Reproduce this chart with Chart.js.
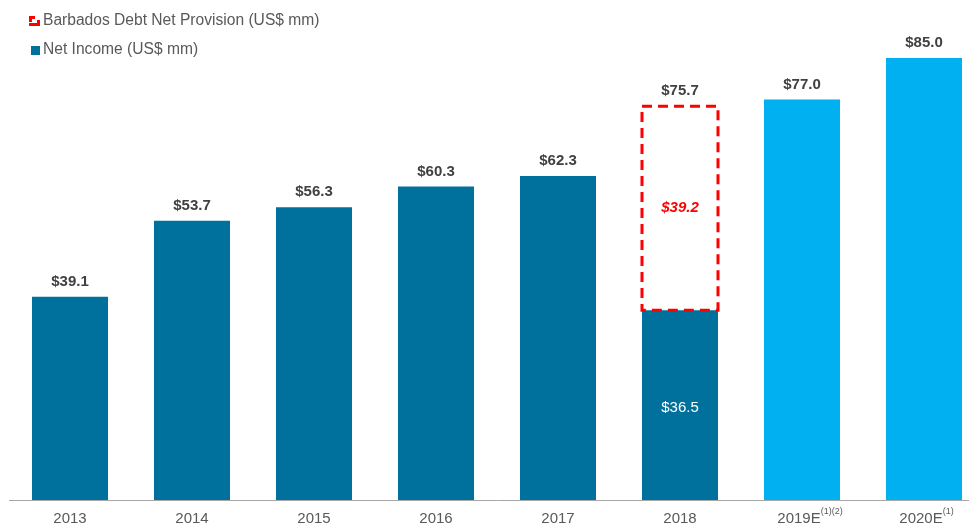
<!DOCTYPE html>
<html><head><meta charset="utf-8">
<script src="https://cdn.jsdelivr.net/npm/chart.js@4"></script>
<style>html,body{margin:0;padding:0;background:#fff;overflow:hidden;width:969px;height:527px}#wrap{position:relative;width:985px;height:527px}</style>
</head><body><div id="wrap"><canvas id="c"></canvas></div>
<script>
const categories = ['2013','2014','2015','2016','2017','2018','2019E','2020E'];
const superscripts = ['','','','','','','(1)(2)','(1)'];
const netIncome = [39.1, 53.7, 56.3, 60.3, 62.3, 36.5, 77.0, 85.0];
const provision = [null, null, null, null, null, 39.2, null, null];
const totals = [39.1, 53.7, 56.3, 60.3, 62.3, 75.7, 77.0, 85.0];
const isEstimate = [false,false,false,false,false,false,true,true];
const legendLabels = ['Barbados Debt Net Provision (US$ mm)', 'Net Income (US$ mm)'];

const DARK = '#00719C', LIGHT = '#00B0F0', RED = '#FF0000';

const overlay = {
  id: 'overlay',
  afterDatasetsDraw(chart) {
    const ctx = chart.ctx;
    const niMeta = chart.getDatasetMeta(0);
    const prMeta = chart.getDatasetMeta(1);
    ctx.save();
    prMeta.data.forEach((el, i) => {
      if (provision[i] == null) return;
      const p = el.getProps(['x','y','base','width'], true);
      const l = p.x - p.width/2, r = p.x + p.width/2;
      ctx.strokeStyle = RED; ctx.lineWidth = 3; ctx.setLineDash([10,6]);
      ctx.strokeRect(l, p.y, r - l, p.base - p.y);
      ctx.setLineDash([]);
      ctx.fillStyle = RED; ctx.font = 'italic bold 15px "Liberation Sans", Arial';
      ctx.textAlign = 'center'; ctx.textBaseline = 'middle';
      ctx.fillText('$' + provision[i].toFixed(1), p.x, (p.y + p.base)/2);
      const n = niMeta.data[i].getProps(['x','y','base'], true);
      ctx.fillStyle = '#FFFFFF'; ctx.font = '15px "Liberation Sans", Arial';
      ctx.fillText('$' + netIncome[i].toFixed(1), n.x, n.y + 98);
    });
    ctx.fillStyle = '#404040'; ctx.font = 'bold 15px "Liberation Sans", Arial';
    ctx.textAlign = 'center'; ctx.textBaseline = 'middle';
    const ys = chart.scales.y;
    totals.forEach((t, i) => {
      const x = niMeta.data[i].x;
      ctx.fillText('$' + t.toFixed(1), x, ys.getPixelForValue(t) - 15);
    });
    const xs = chart.scales.x;
    categories.forEach((c, i) => {
      const x = xs.getPixelForValue(i);
      ctx.font = '15px "Liberation Sans", Arial'; ctx.fillStyle = '#595959';
      const w = ctx.measureText(c).width;
      ctx.textAlign = 'left'; ctx.textBaseline = 'middle';
      const sx = x - w/2 - (superscripts[i] ? 3 : 0);
      ctx.fillText(c, sx, 519);
      if (superscripts[i]) {
        ctx.font = '9px "Liberation Sans", Arial';
        ctx.fillText(superscripts[i], sx + w, 512);
      }
    });
    ctx.font = '15.6px "Liberation Sans", Arial'; ctx.fillStyle = '#595959';
    ctx.textAlign = 'left'; ctx.textBaseline = 'middle';
    ctx.fillText(legendLabels[0], 43, 21);
    ctx.fillText(legendLabels[1], 43, 50);
    ctx.fillStyle = RED;
    ctx.fillRect(29, 16, 3, 6); ctx.fillRect(29, 16, 6, 3);
    ctx.fillRect(29, 23, 11, 3); ctx.fillRect(37, 20, 3, 6);
    ctx.fillStyle = DARK;
    ctx.fillRect(31, 46, 9, 9);
    ctx.restore();
  }
};

new Chart(document.getElementById('c'), {
  type: 'bar',
  data: {
    labels: categories,
    datasets: [
      { label: legendLabels[1], data: netIncome,
        backgroundColor: isEstimate.map(e => e ? LIGHT : DARK), borderWidth: 0 },
      { label: legendLabels[0], data: provision,
        backgroundColor: 'rgba(0,0,0,0)', borderWidth: 0 }
    ]
  },
  options: {
    responsive: true, maintainAspectRatio: false, animation: false,
    layout: { padding: { left: 9, right: 0, top: 0, bottom: 0 } },
    datasets: { bar: { categoryPercentage: 1, barPercentage: 0.623 } },
    plugins: { legend: { display: false }, tooltip: { enabled: false } },
    scales: {
      x: { stacked: true, grid: { display: false }, ticks: { display: false },
           border: { display: true, color: '#A6A6A6', width: 1 },
           afterFit: s => { s.height = 27; } },
      y: { stacked: true, display: false, min: 0, max: 96.15 }
    }
  },
  plugins: [overlay]
});
</script></body></html>
